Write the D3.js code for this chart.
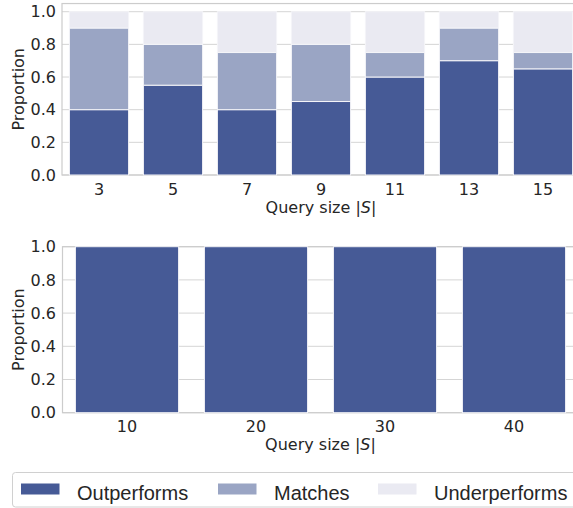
<!DOCTYPE html>
<html>
<head>
<meta charset="utf-8">
<script src="https://cdn.jsdelivr.net/npm/d3@7"></script>
<style>
  body { margin: 0; background: #fff; }
  text { font-family: "DejaVu Sans", sans-serif; fill: #262626; }
</style>
</head>
<body>
<div id="chart"></div>
<script>
// data for the two panels
var sizesTop = ["3", "5", "7", "9", "11", "13", "15"];
var outTop = [0.40, 0.55, 0.40, 0.45, 0.60, 0.70, 0.65];
var matchTop = [0.50, 0.25, 0.35, 0.35, 0.15, 0.20, 0.10];
var underTop = [0.10, 0.20, 0.25, 0.20, 0.25, 0.10, 0.25];

var sizesBottom = ["10", "20", "30", "40"];
var outBottom = [1.0, 1.0, 1.0, 1.0];
var matchBottom = [0, 0, 0, 0];
var underBottom = [0, 0, 0, 0];

var yTicks = [0, 0.2, 0.4, 0.6, 0.8, 1.0];
var seriesNames = ["Outperforms", "Matches", "Underperforms"];
var colors = ["#465a96", "#9aa5c4", "#eaeaf2"];

var svg = d3.select("#chart").append("svg")
    .attr("width", 573)
    .attr("height", 508);

function panel(cfg) {
    var g = svg.append("g");

    var x = d3.scaleBand()
        .domain(cfg.cats)
        .range([cfg.left, cfg.right])
        .paddingInner(0.2)
        .paddingOuter(0.1);

    var y = d3.scaleLinear()
        .domain([0, cfg.ymax])
        .range([cfg.bottom, cfg.bottom - cfg.unit * cfg.ymax]);

    // grid
    g.selectAll(".grid")
        .data(yTicks).enter().append("line")
        .attr("x1", cfg.left).attr("x2", cfg.right)
        .attr("y1", d => y(d)).attr("y2", d => y(d))
        .style("stroke", "#d5d5d5")
        .style("stroke-width", 1);

    // spines
    var top = y(cfg.ymax);
    g.append("rect")
        .attr("x", cfg.left).attr("y", top)
        .attr("width", cfg.right - cfg.left)
        .attr("height", cfg.bottom - top)
        .style("fill", "none")
        .style("stroke", "#cccccc")
        .style("stroke-width", 1.2);

    // stacked bars
    var rows = cfg.cats.map(function(c, i) {
        return { cat: c, Outperforms: cfg.out[i], Matches: cfg.match[i], Underperforms: cfg.under[i] };
    });
    var stack = d3.stack().keys(seriesNames)(rows);

    stack.forEach(function(layer, k) {
        g.selectAll(".bar" + k)
            .data(layer.filter(d => d[1] - d[0] > 0)).enter().append("rect")
            .attr("x", d => x(d.data.cat))
            .attr("width", x.bandwidth())
            .attr("y", d => y(d[1]))
            .attr("height", d => y(d[0]) - y(d[1]))
            .style("fill", colors[k])
            .style("stroke", "#f4f4f8")
            .style("stroke-width", 1);
    });

    // y axis labels
    g.selectAll(".ytick")
        .data(yTicks).enter().append("text")
        .attr("x", 56)
        .attr("y", d => y(d))
        .attr("dy", "0.36em")
        .attr("text-anchor", "end")
        .style("font-size", "16px")
        .text(d => d3.format(".1f")(d));

    // x axis labels
    g.selectAll(".xtick")
        .data(cfg.cats).enter().append("text")
        .attr("x", d => x(d) + x.bandwidth() / 2)
        .attr("y", cfg.bottom + 19.5)
        .attr("text-anchor", "middle")
        .style("font-size", "16px")
        .text(d => d);

    var xl = g.append("text")
        .attr("x", (cfg.left + cfg.right) / 2)
        .attr("y", cfg.bottom + 37.5)
        .attr("text-anchor", "middle")
        .style("font-size", "16px");
    xl.append("tspan").text("Query size |");
    xl.append("tspan").style("font-style", "italic").text("S");
    xl.append("tspan").text("|");

    g.append("text")
        .attr("transform", "translate(24," + ((top + cfg.bottom) / 2) + ") rotate(-90)")
        .attr("text-anchor", "middle")
        .style("font-size", "16px")
        .text("Proportion");
}

panel({ cats: sizesTop, out: outTop, match: matchTop, under: underTop,
        left: 62, right: 580, bottom: 175, unit: 163.3, ymax: 1.05 });
panel({ cats: sizesBottom, out: outBottom, match: matchBottom, under: underBottom,
        left: 62.5, right: 578.5, bottom: 412.7, unit: 166, ymax: 1.0 });

// legend
var legend = svg.append("g");
legend.append("rect")
    .attr("x", 12.5).attr("y", 472.5)
    .attr("width", 570).attr("height", 34.5)
    .attr("rx", 3)
    .style("fill", "#fff")
    .style("stroke", "#d0d0d0")
    .style("stroke-width", 1);

var legX = [21, 218, 378];
var items = legend.selectAll(".item")
    .data(seriesNames).enter().append("g")
    .attr("transform", (d, i) => "translate(" + legX[i] + ",0)");
items.append("rect")
    .attr("x", 0).attr("y", 483.5)
    .attr("width", 38.5).attr("height", 11)
    .style("fill", (d, i) => colors[i]);
items.append("text")
    .attr("x", 56).attr("y", 499.5)
    .style("font-family", "'Liberation Sans', Arial, sans-serif")
    .style("font-size", "20px")
    .text(d => d);
</script>
</body>
</html>
